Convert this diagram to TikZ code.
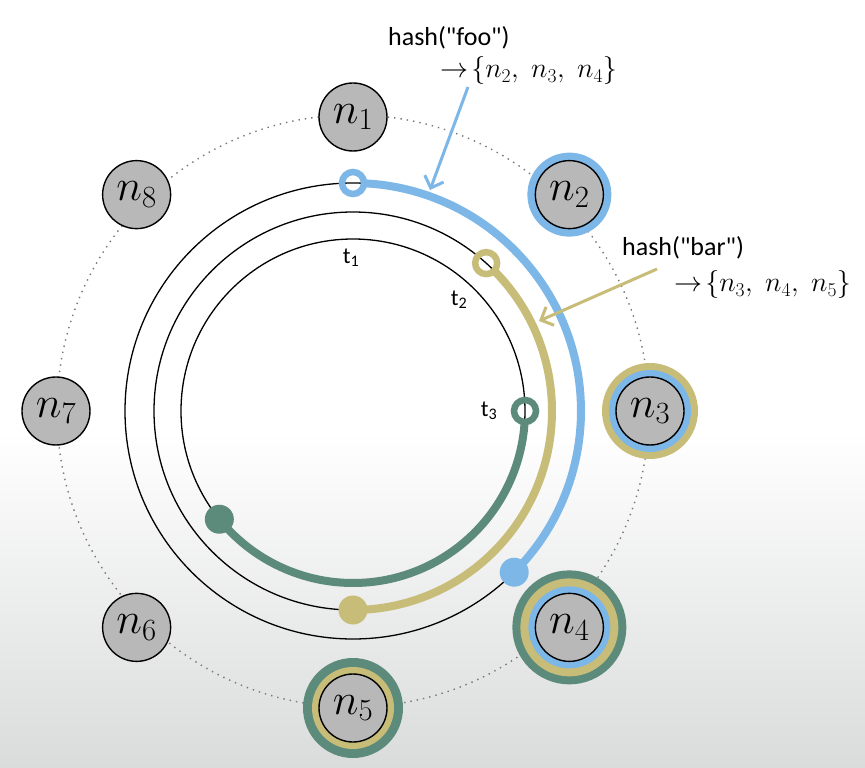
\RequirePackage{fix-cm}
\documentclass[tikz,border=0pt]{standalone}
\usepackage{fontspec}
\setmainfont{Carlito}
\usetikzlibrary{arrows.meta}
\definecolor{skyblue}{HTML}{7DB7E8}
\definecolor{khaki}{HTML}{C8BD78}
\definecolor{sage}{HTML}{5C8B7C}
\definecolor{nodegray}{HTML}{B8B8B8}
\definecolor{bggray}{HTML}{DADBDB}
\definecolor{dotgray}{HTML}{777777}

\begin{document}
\begin{tikzpicture}[x=1pt,y=1pt, server/.style={circle,draw=black,line width=1.4pt,fill=nodegray,minimum size=68pt,inner sep=0pt,font=\fontsize{44}{44}\selectfont}, ring/.style={line width=1.3pt}, hashtext/.style={anchor=base west,inner sep=0pt,font=\fontsize{26}{30}\selectfont}, settext/.style={anchor=base west,inner sep=0pt,font=\fontsize{28}{30}\selectfont}, tok/.style={inner sep=0pt,font=\fontsize{23}{24}\selectfont}, pointer/.style={line width=3pt,-{Straight Barb[length=10pt,width=20pt]}}]
\useasboundingbox (-353,-357) rectangle (512,411);
\fill[white] (-353,-357) rectangle (512,411);
\shade[top color=white,bottom color=bggray] (-353,-357) rectangle (512,-20);
% servers on the ring
\draw[dotgray,line width=1.4pt,dash pattern=on 1.4pt off 5pt] (0,0) circle[radius=296pt];
\foreach \a/\r/\c/\s in {-45/306/sage/57,-45/306/khaki/49,-45/306/skyblue/41,-90/297/sage/50,-90/297/khaki/41,0/297/khaki/48,0/297/skyblue/41,45/306/skyblue/42}{\fill[\c] (\a:\r) circle[radius=\s pt];}
\foreach \i/\a/\r in {1/90/294,2/45/306,3/0/297,4/-45/306,5/-90/297,6/-135/306,7/180/297,8/135/306}{\node[server] (n\i) at (\a:\r) {$n_{\i}$};}
% token rings
\foreach \r in {228,199,172}{\draw[ring] (0,0) circle[radius=\r pt];}
\foreach \c/\r/\s/\e in {skyblue/228/90/-45,khaki/199/48/-90,sage/172/0/-141}{
  \pgfmathsetmacro\st{\s-560/\r}
  \draw[\c,line width=8pt] (\st:\r) arc[start angle=\st,end angle=\e,radius=\r pt];
  \draw[\c,line width=6.5pt] (\s:\r) circle[radius=11pt];
  \fill[\c] (\e:\r) circle[radius=14.5pt];
}
\node[tok] (t1) at (-2,153) {t\textsubscript{1}};
\node[tok] (t2) at (106,111) {t\textsubscript{2}};
\node[tok] (t3) at (136,0) {t\textsubscript{3}};
% lookups
\node[hashtext] (foo) at (35,365) {hash(\textquotedbl foo\textquotedbl)};
\node[settext] (fooset) at (87,333) {$\rightarrow\!\{n_2,\; n_3,\; n_4\}$};
\node[hashtext] (bar) at (269,155) {hash(\textquotedbl bar\textquotedbl)};
\node[settext] (barset) at (321,119) {$\rightarrow\!\{n_3,\; n_4,\; n_5\}$};
\coordinate (foofrom) at (115,324);
\coordinate (footo) at (77,221);
\coordinate (barfrom) at (304,142);
\coordinate (barto) at (186,90);
\draw[pointer,skyblue] (foofrom) -- (footo);
\draw[pointer,khaki] (barfrom) -- (barto);
\end{tikzpicture}
\end{document}
